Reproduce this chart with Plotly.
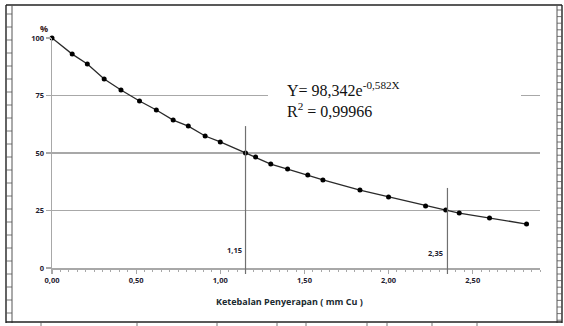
import plotly.graph_objects as go

# ---- data ----
thickness = [0.00, 0.12, 0.21, 0.31, 0.41, 0.52, 0.62, 0.72, 0.81, 0.91, 1.00,
             1.15, 1.21, 1.30, 1.40, 1.52, 1.61, 1.83, 2.00, 2.22, 2.34, 2.42, 2.60, 2.82]
percent = [100.0, 93.0, 88.7, 82.2, 77.4, 72.6, 68.7, 64.3, 61.7, 57.4, 54.8,
           50.0, 48.3, 45.2, 43.0, 40.4, 38.3, 33.9, 30.9, 27.0, 25.2, 23.9, 21.7, 19.1]
ref_x = [1.15, 2.35]
ref_top = [61.7, 34.8]
ref_labels = ["1,15", "2,35"]
ref_label_y = [7.8, 6.5]
x_tickvals = [0.0, 0.5, 1.0, 1.5, 2.0, 2.5]
x_ticktext = ["0,00", "0,50", "1,00", "1,50", "2,00", "2,50"]
y_tickvals = [0, 25, 50, 75, 100]
eq_text = "Y= 98,342e<sup>-0,582X</sup><br>R<sup>2</sup> = 0,99966"
x_title = "Ketebalan Penyerapan ( mm Cu )"

W, H = 564, 326
L, R, T, B = 52, 24, 38, 58
PW, PH = W - L - R, H - T - B
XMAX, YMAX = 2.9, 100


def xp(px):
    return (px - L) / PW


def yp(py):
    return (H - B - py) / PH


GRID = "#a8a8a8"
TICKFONT = dict(family="Open Sans", size=7.5, color="#1e2030")

fig = go.Figure()
fig.add_trace(go.Scatter(
    x=thickness, y=percent, mode="lines+markers",
    line=dict(color="#2a2a2a", width=1.3),
    marker=dict(color="#000000", size=5),
    cliponaxis=False, showlegend=False, hoverinfo="skip"))

shapes = []
# white box behind the equation (hides the 75 gridline)
shapes.append(dict(type="rect", xref="x", yref="y",
                   x0=xp(268) * XMAX, x1=xp(521) * XMAX,
                   y0=yp(122) * YMAX, y1=yp(72) * YMAX,
                   fillcolor="white", line=dict(width=0), layer="between"))
# reference vertical lines
for rx, rt in zip(ref_x, ref_top):
    shapes.append(dict(type="line", xref="x", yref="y", x0=rx, x1=rx, y0=rt, y1=0,
                       line=dict(color="#707070", width=1.2), layer="above"))
    shapes.append(dict(type="line", xref="x", yref="paper", x0=rx, x1=rx,
                       y0=0, y1=yp(274), line=dict(color="#707070", width=1.2)))

# document frame decoration
FR = "#222222"
def pline(x0, y0, x1, y1, w=1.2, c=FR):
    shapes.append(dict(type="line", xref="paper", yref="paper",
                       x0=xp(x0), x1=xp(x1), y0=yp(y0), y1=yp(y1),
                       line=dict(color=c, width=w)))

pline(6, 5, 562, 5, 1.6)
pline(6, 5, 6, 323, 1.4)
pline(12, 5, 12, 323, 1.0, "#555555")
pline(557, 5, 557, 323, 1.0, "#555555")
pline(562, 5, 562, 323, 1.4)
pline(6, 322, 562, 322, 1.6)
yy = 14
while yy < 322:
    pline(6, yy, 12, yy, 0.8, "#555555")
    yy += 13
yy = 10
while yy < 322:
    pline(557, yy, 562, yy, 0.8, "#555555")
    yy += 6.6
for bx in [41, 137, 217, 277, 306, 367, 387, 432, 477]:
    pline(bx, 322, bx, 326, 0.8, "#555555")

annotations = [
    dict(text=eq_text, xref="paper", yref="paper", x=xp(285), y=yp(77),
         xanchor="left", yanchor="top", showarrow=False, align="left",
         font=dict(family="Liberation Serif", size=16, color="#111111")),
    dict(text="<b>%</b>", xref="paper", yref="paper", x=xp(44), y=yp(28),
         xanchor="center", yanchor="middle", showarrow=False,
         font=dict(family="Open Sans", size=9, color="#3a2020")),
    dict(text="<b>" + x_title + "</b>", xref="paper", yref="paper", x=xp(289), y=yp(301),
         xanchor="center", yanchor="middle", showarrow=False,
         font=dict(family="Open Sans", size=9, color="#1a2a30")),
]
for rx, lab, ly in zip(ref_x, ref_labels, ref_label_y):
    annotations.append(dict(text="<b>" + lab + "</b>", x=rx, y=ly, xref="x", yref="y",
                            xanchor="right", yanchor="middle", xshift=-2, showarrow=False,
                            font=TICKFONT))

fig.update_layout(
    width=W, height=H, margin=dict(l=L, r=R, t=T, b=B),
    paper_bgcolor="white", plot_bgcolor="white",
    shapes=shapes, annotations=annotations,
    xaxis=dict(range=[0, XMAX], tickvals=x_tickvals,
               ticktext=["<b>" + t + "</b>" for t in x_ticktext],
               showgrid=False, zeroline=False, showline=True, linecolor=GRID, linewidth=1.5,
               ticks="outside", ticklen=4, tickcolor=GRID, tickwidth=1.2,
               minor=dict(dtick=0.05, ticks="outside", ticklen=2, tickcolor=GRID, tickwidth=1),
               tickfont=TICKFONT, fixedrange=True),
    yaxis=dict(range=[0, YMAX], tickvals=y_tickvals,
               ticktext=["<b>%d</b>" % v for v in y_tickvals],
               showgrid=True, gridcolor=GRID, gridwidth=1.4, zeroline=False,
               showline=True, linecolor=GRID, linewidth=1.5,
               ticks="outside", ticklen=5, tickcolor=GRID, tickwidth=1.2,
               tickfont=TICKFONT, fixedrange=True),
)

fig.write_html("out.html", config={"displayModeBar": False, "staticPlot": True},
               post_script="document.body.style.margin='0px';")
